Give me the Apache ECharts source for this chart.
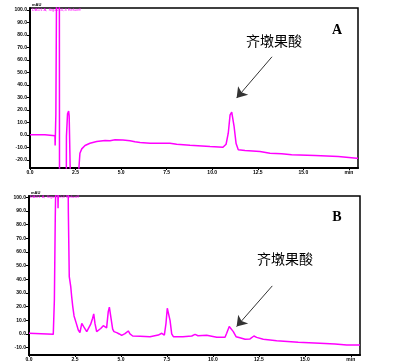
<!DOCTYPE html>
<html><head><meta charset="utf-8">
<script src="https://cdn.jsdelivr.net/npm/echarts@6/dist/echarts.min.js"></script>
<style>html,body{margin:0;padding:0;background:#fff}#c{width:398px;height:364px}</style>
</head><body><div id="c"></div>
<script>
// Panel A: time (min), absorbance (mAU)
const timeA = [0,0.82,0.85,1.37,1.38,1.42,1.47,1.61,1.62,1.99,2.0,2.06,2.12,2.15,2.25,2.62,2.74,2.84,3.02,3.29,3.66,4.12,4.21,4.39,4.67,5.1,5.49,5.76,6.04,6.59,7.68,8.05,8.78,9.88,10.59,10.76,10.88,10.98,11.07,11.2,11.31,11.43,11.8,12.62,13.17,13.81,14.36,15.64,16.92,17.93,18];
const valA  = [0,0,-0.8,-0.8,-8.5,16.8,150,150,-60,-60,-1,16.8,19,15,-60,-40,-14.7,-11.2,-8.5,-6.7,-5.3,-4.5,-4,-4.8,-4,-4.2,-4.7,-5.6,-6.1,-6.7,-6.7,-7.5,-8.3,-9.3,-9.9,-7.5,1.3,16,18.1,6.7,-7,-12,-12.5,-13.3,-14.7,-15.2,-16,-16.5,-17.3,-18.7,-18.8];
// Panel B
const timeB = [0,0.1,1.32,1.38,1.43,1.47,1.55,1.58,1.62,2.12,2.14,2.19,2.27,2.32,2.38,2.45,2.56,2.68,2.77,2.87,2.90,2.99,3.14,3.22,3.35,3.46,3.52,3.59,3.68,3.77,3.90,4.04,4.13,4.22,4.31,4.37,4.44,4.50,4.55,4.62,4.77,4.91,5.04,5.22,5.40,5.49,5.64,6.04,6.58,7.03,7.22,7.36,7.45,7.52,7.60,7.67,7.76,7.85,8.37,8.85,9.03,9.19,9.66,10.21,10.66,10.75,10.89,10.98,11.11,11.26,11.47,11.75,12.02,12.23,12.38,12.74,13.11,13.47,14.64,15.82,16.64,17.28,18.0];
const valB  = [0.5,-0.3,-0.3,25,87,120,130,92,130,130,89,42,34.7,27.4,20,13.2,8.3,2.9,1,7.8,9,5,1.7,1.2,7,11.5,14.7,7.5,1.7,0.8,4,6.1,5.4,4.5,16.4,19.6,18.8,8,3.6,1.7,1,0,-1,0.2,2.2,0,-1.5,-1.7,-2,-0.8,0.5,-0.8,7.8,18.8,20,10,0,-2,-2,-1.5,-0.3,-1.3,-1,-2.4,-2.4,0.5,5.4,6.1,1.7,-2,-2.8,-3.9,-3.6,-1.5,-2.5,-3.9,-4.4,-4.9,-6.1,-6.8,-7.3,-8.1,-8.1];
const xTicks = [0,2.5,5,7.5,10,12.5,15,17.5];
const yTicksA = [-20,-10,0,10,20,30,40,50,60,70,80,90,100];
const yTicksB = [-10,0,10,20,30,40,50,60,70,80,90,100];
const compound = '齐墩果酸';
const header = 'DAD1 A, Sig=210,4 Ref=off';
const yUnit = 'mAU';
const xUnit = 'min';

const chart = echarts.init(document.getElementById('c'), null, {renderer:'canvas'});
const pairs = (t,v)=>t.map((x,i)=>[x,v[i]]);
function xAxis(gi){
  return {type:'value', gridIndex:gi, min:0, max:18,
    axisLine:{show:true, onZero:false, lineStyle:{color:'#000', width:2}},
    axisTick:{show:true, customValues:xTicks, length:2, lineStyle:{color:'#000', width:1}},
    axisLabel:{customValues:xTicks, fontSize:5, color:'#000', margin:2, fontWeight:'bold',
      formatter:v=> v===17.5 ? xUnit : v.toFixed(1)},
    splitLine:{show:false}};
}
function yAxis(gi, mn, mx, ticks){
  return {type:'value', gridIndex:gi, min:mn, max:mx,
    axisLine:{show:true, onZero:false, lineStyle:{color:'#000', width:2}},
    axisTick:{show:true, customValues:ticks, length:3, lineStyle:{color:'#000', width:1}},
    axisLabel:{customValues:ticks, fontSize:5, color:'#000', margin:3, fontWeight:'bold',
      formatter:v=>v.toFixed(1)},
    splitLine:{show:false}};
}
function arrow(gi, from, to){
  return {silent:true, symbol:['none','arrow'], symbolSize:10,
    itemStyle:{color:'#111'},
    lineStyle:{color:'#333', width:1, type:'solid'}, label:{show:false},
    data:[[{coord:from},{coord:to}]]};
}
chart.setOption({
  animation:false,
  grid:[
    {left:30, top:8, width:328, height:160, show:true, borderColor:'#000', borderWidth:1.5},
    {left:29, top:196, width:331, height:159, show:true, borderColor:'#000', borderWidth:1.5}
  ],
  xAxis:[xAxis(0), xAxis(1)],
  yAxis:[yAxis(0,-26.5,101.4,yTicksA), yAxis(1,-15.4,101,yTicksB)],
  series:[
    {type:'line', xAxisIndex:0, yAxisIndex:0, data:pairs(timeA,valA), showSymbol:false, clip:true,
      lineStyle:{color:'#ff00ff', width:1.5}, markLine:arrow(0,[13.28,62.4],[11.34,29.4])},
    {type:'line', xAxisIndex:1, yAxisIndex:1, data:pairs(timeB,valB), showSymbol:false, clip:true,
      lineStyle:{color:'#ff00ff', width:1.5}, markLine:arrow(1,[13.23,35.2],[11.29,5.4])}
  ]
});
const pA = chart.convertToPixel({gridIndex:0}, [13.39,75.2]);
const pB = chart.convertToPixel({gridIndex:1}, [13.92,55]);
const lA = chart.convertToPixel({gridIndex:0}, [16.85,83.2]);
const lB = chart.convertToPixel({gridIndex:1}, [16.75,85.1]);
const hA = chart.convertToPixel({gridIndex:0}, [0.1,100]);
const hB = chart.convertToPixel({gridIndex:1}, [0.05,100]);
const uA = chart.convertToPixel({gridIndex:0}, [0,101.4]);
const uB = chart.convertToPixel({gridIndex:1}, [0,101]);
const cjk = '"Noto Sans CJK SC", sans-serif';
const txt = (p,t,o)=>Object.assign({type:'text', x:p[0], y:p[1], style:Object.assign({text:t, fill:'#000', align:'center', verticalAlign:'middle'}, o)});
chart.setOption({graphic:[
  txt(pA, compound, {font:'14px '+cjk}),
  txt(pB, compound, {font:'14px '+cjk}),
  txt(lA, 'A', {font:'bold 14px "Liberation Serif", serif'}),
  txt(lB, 'B', {font:'bold 14px "Liberation Serif", serif'}),
  txt(hA, header, {font:'4px sans-serif', fill:'#ff00ff', align:'left'}),
  txt(hB, header, {font:'4px sans-serif', fill:'#ff00ff', align:'left'}),
  txt([uA[0]+2,uA[1]-3], yUnit, {font:'bold 4px sans-serif', align:'left'}),
  txt([uB[0]+2,uB[1]-3], yUnit, {font:'bold 4px sans-serif', align:'left'})
]});
</script></body></html>
